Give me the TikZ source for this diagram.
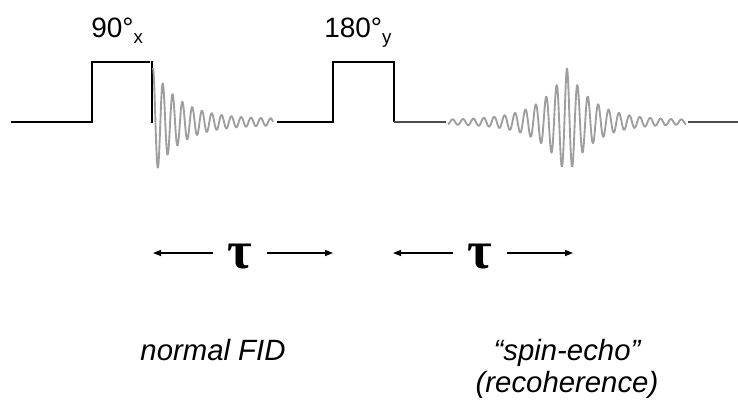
\documentclass[tikz,border=0pt]{standalone}
\usepackage{fontspec}
\setmainfont{Liberation Sans}
\newfontfamily\greekfont{Liberation Serif}
\usetikzlibrary{positioning, arrows.meta}

\begin{document}
\begin{tikzpicture}[
  x=0.75pt, y=-0.75pt,
  pulse/.style={line width=2pt, black},
  baseln/.style={line width=1.5pt, black!70},
  wave/.style={line width=1.4pt, black!38, line join=round},
  arrow/.style={-{Triangle[length=6pt, width=4.5pt]}, line width=1pt},
  angle/.style={anchor=base west, inner sep=0pt, font=\fontsize{21}{25}\selectfont},
  delay/.style={inner sep=0pt, minimum width=40.5pt, text height=22.5pt, text depth=0pt, font=\greekfont\bfseries\fontsize{40}{40}\selectfont},
  caption/.style={anchor=base, inner sep=0pt, align=center, font=\itshape\fontsize{22}{24}\selectfont}
]
  \useasboundingbox (0,0) rectangle (738,400);

  % Pulses
  \draw[pulse] (11,122) -- (92,122) -- (92,62) -- (150,62);
  \draw[pulse] (152,61) -- (152,123);
  \draw[pulse] (277,122) -- (333,122) -- (333,62) -- (394,62) -- (394,122);
  \draw[baseln] (394,122) -- (446,122);
  \draw[baseln] (688,122) -- (738,122);

  % Signals
  \draw[wave] plot[domain=0:120, samples=500] ({153+\x}, {122-(3+51*exp(-\x/27))*cos(\x/9.8*360)});
  \draw[wave] plot[domain=-119:119, samples=700] ({567+\x}, {122-(2+52*exp(-abs(\x)/26))*cos(\x/10.4*360)});

  % Nodes
  \node[angle] (p90) at (91,37) {90°\raisebox{-4.5pt}{\fontsize{14}{14}\selectfont x}};
  \node[angle] (p180) at (324,37) {180°\raisebox{-4.5pt}{\fontsize{14}{14}\selectfont y}};
  \node[delay] (tau1) at (240,253) {τ};
  \node[delay] (tau2) at (480,253) {τ};
  \node[caption] (fid) at (213,360) {normal FID};
  \node[caption] (echo) at (567,392) {“spin-echo”\\(recoherence)};

  \coordinate (t1l) at (153,253);
  \coordinate (t1r) at (333,253);
  \coordinate (t2l) at (393,253);
  \coordinate (t2r) at (573,253);

  % Edges
  \draw[arrow] (tau1.west) -- (t1l);
  \draw[arrow] (tau1.east) -- (t1r);
  \draw[arrow] (tau2.west) -- (t2l);
  \draw[arrow] (tau2.east) -- (t2r);

\end{tikzpicture}
\end{document}
